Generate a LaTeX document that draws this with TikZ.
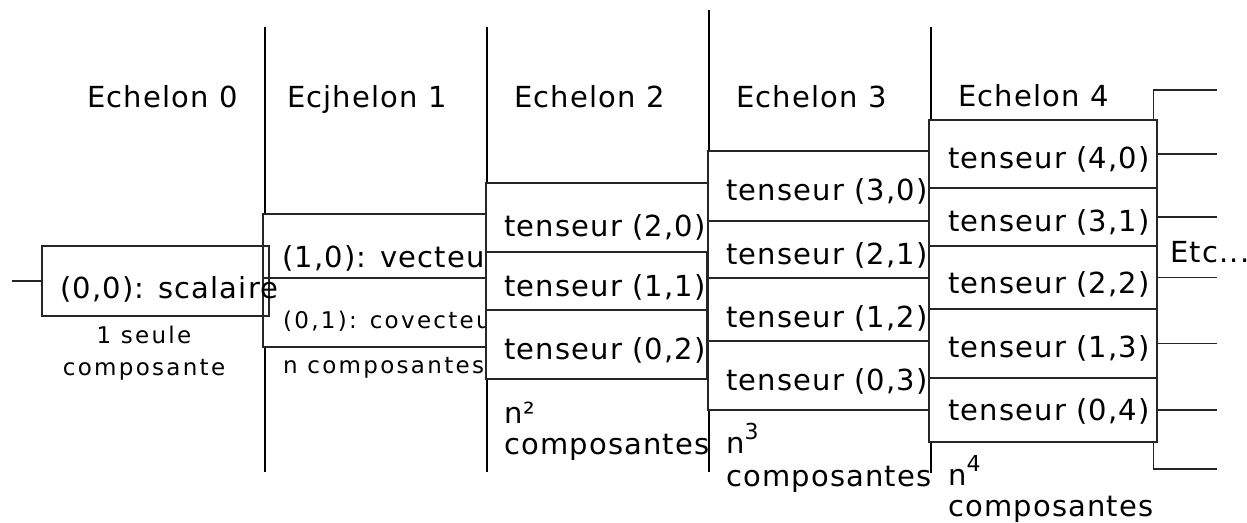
\documentclass[tikz,border=0pt]{standalone}
\usepackage{fontspec}
\setmainfont{DejaVu Sans}[LetterSpace=4]
\newfontfamily\smallfont{DejaVu Sans}[LetterSpace=10]
\begin{document}
\begin{tikzpicture}[x=1pt,y=-1pt,
  lbl/.style={anchor=base west, inner sep=0pt, font=\fontsize{29}{34}\selectfont},
  smalllbl/.style={anchor=base, inner sep=0pt, font=\smallfont\fontsize{23}{31}\selectfont},
  smallw/.style={anchor=base west, inner sep=0pt, font=\smallfont\fontsize{23}{31}\selectfont},
  cell/.style={draw=black!85, fill=white, line width=1.3pt, inner sep=0pt},
  openbox/.style={draw=black!85, line width=1.3pt, inner sep=0pt},
  sepline/.style={draw=black, line width=1.2pt},
  conn/.style={draw=black!85, line width=1.2pt}]
\useasboundingbox (0,0) rectangle (1247,522);

% vertical separators
\coordinate (v1t) at (265,27);  \coordinate (v1b) at (265,472);
\coordinate (v2t) at (487,27);  \coordinate (v2b) at (487,472);
\coordinate (v3t) at (709,10);  \coordinate (v3b) at (709,472);
\coordinate (v4t) at (931,27);  \coordinate (v4b) at (931,473);
\draw[sepline] (v1t) -- (v1b);
\draw[sepline] (v2t) -- (v2b);
\draw[sepline] (v3t) -- (v3b);
\draw[sepline] (v4t) -- (v4b);

% headers
\node[lbl] (h0) at (87,107) {Echelon 0};
\node[lbl] (h1) at (287,107) {Ecjhelon 1};
\node[lbl] (h2) at (514,107) {Echelon 2};
\node[lbl] (h3) at (736,107) {Echelon 3};
\node[lbl] (h4) at (958,106) {Echelon 4};

% echelon 1
\node[cell, minimum width=223pt, minimum height=64pt] (c10) at (374.5,246) {};
\node[cell, minimum width=223pt, minimum height=69pt] (c01) at (374.5,312.5) {};
\node[lbl] (t10) at (282,267) {(1,0): vecteur};
\node[smallw] (t01) at (283,328) {(0,1): covecteur};

% echelon 0
\coordinate (s0) at (12,281);
\node[openbox, minimum width=227pt, minimum height=70pt] (b0) at (155.5,281) {};
\draw[conn] (s0) -- (b0.west);
\node[lbl] (t00) at (60,298) {(0,0): scalaire};
\node[smalllbl] (k0a) at (144,343) {1 seule};
\node[smalllbl] (k0b) at (144,375) {composante};

% echelon 2
\node[cell, minimum width=227pt, minimum height=69pt] (c20) at (599.5,217.5) {};
\node[cell, minimum width=221pt, minimum height=58pt] (c11) at (596.5,281) {};
\node[cell, minimum width=221pt, minimum height=69pt] (c02) at (596.5,344.5) {};
\node[lbl] (t20) at (504,236) {tenseur (2,0)};
\node[lbl] (t11) at (504,296) {tenseur (1,1)};
\node[lbl] (t02) at (504,359) {tenseur (0,2)};

% echelon 3
\node[cell, minimum width=221pt, minimum height=70pt] (c30) at (818.5,186) {};
\node[cell, minimum width=221pt, minimum height=57pt] (c21) at (818.5,249.5) {};
\node[cell, minimum width=221pt, minimum height=63pt] (c12) at (818.5,309.5) {};
\node[cell, minimum width=227pt, minimum height=69pt] (c03) at (821.5,375.5) {};
\node[lbl] (t30) at (726,200) {tenseur (3,0)};
\node[lbl] (t21) at (726,264) {tenseur (2,1)};
\node[lbl] (t12) at (726,327) {tenseur (1,2)};
\node[lbl] (t03) at (726,390) {tenseur (0,3)};

% echelon 4
\node[cell, minimum width=228pt, minimum height=68pt] (c40) at (1043,154) {};
\node[cell, minimum width=228pt, minimum height=58pt] (c31) at (1043,217) {};
\node[cell, minimum width=228pt, minimum height=63pt] (c22) at (1043,277.5) {};
\node[cell, minimum width=228pt, minimum height=69pt] (c13) at (1043,343.5) {};
\node[cell, minimum width=228pt, minimum height=64pt] (c04) at (1043,410) {};
\node[lbl] (t40) at (948,168) {tenseur (4,0)};
\node[lbl] (t31) at (948,231) {tenseur (3,1)};
\node[lbl] (t22) at (948,293) {tenseur (2,2)};
\node[lbl] (t13) at (948,357) {tenseur (1,3)};
\node[lbl] (t04) at (948,420) {tenseur (0,4)};

% right connectors
\coordinate (ex) at (1217,0);
\coordinate (etop) at (1217,90);
\coordinate (ebot) at (1217,469);
\draw[conn] ([xshift=-4pt]c40.north east) |- (etop);
\draw[conn] ([xshift=-4pt]c04.south east) |- (ebot);
\draw[conn] (c40.east) -- (c40.east -| ex);
\draw[conn] (c31.east) -- (c31.east -| ex);
\draw[conn] (c22.east) -- (c22.east -| ex);
\draw[conn] (c13.east) -- (c13.east -| ex);
\draw[conn] (c04.east) -- (c04.east -| ex);
\node[lbl] (etc) at (1170,262) {Etc...};

% component counts
\node[smallw] (k1) at (283,373) {n composantes};
\node[lbl] (k2a) at (504,423) {n²};
\node[lbl] (k2b) at (504,454) {composantes};
\node[lbl] (k3a) at (726,453) {n\raisebox{14pt}{\fontsize{22}{22}\selectfont 3}};
\node[lbl] (k3b) at (726,486) {composantes};
\node[lbl] (k4a) at (948,485) {n\raisebox{14pt}{\fontsize{22}{22}\selectfont 4}};
\node[lbl] (k4b) at (948,516) {composantes};
\end{tikzpicture}
\end{document}
